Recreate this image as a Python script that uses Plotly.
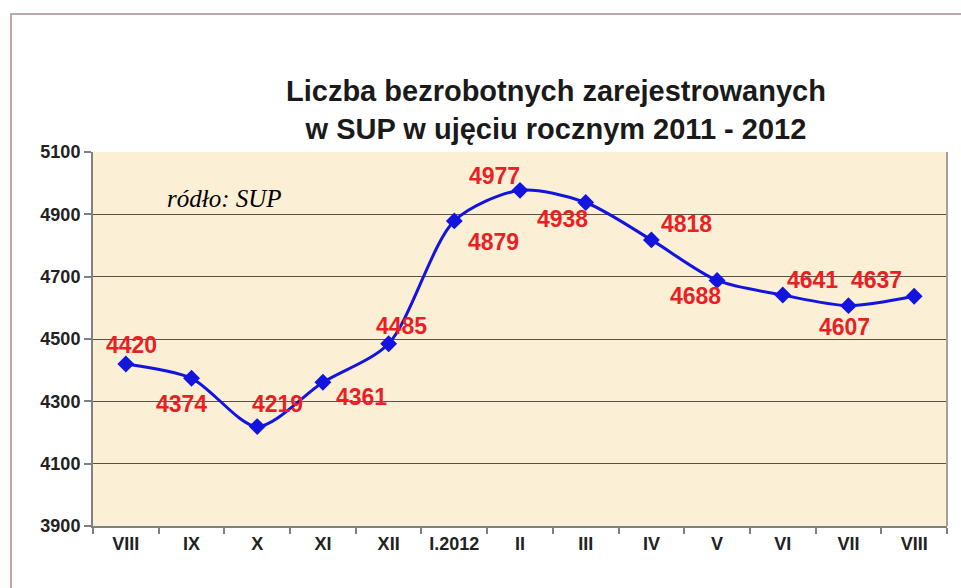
import plotly.graph_objects as go

categories = ["VIII", "IX", "X", "XI", "XII", "I.2012", "II", "III", "IV", "V", "VI", "VII", "VIII "]
values = [4420, 4374, 4219, 4361, 4485, 4879, 4977, 4938, 4818, 4688, 4641, 4607, 4637]
y_ticks = [3900, 4100, 4300, 4500, 4700, 4900, 5100]
tick_text = ["VIII", "IX", "X", "XI", "XII", "I.2012", "II", "III", "IV", "V", "VI", "VII", "VIII"]

# label offsets (pixels) relative to each point
label_dx = [6, -10, 20, 39, 13, 39, -26, -23, 35, -22, 30, -4, -38]
label_dy = [19, -26, 23, -15, 18, -21, 14, -17, 16, -16, 15, -21, 16]

x_idx = list(range(len(categories)))

PL, PR, PT, PB = 93, 947, 152, 526
pw, ph = PR - PL, PB - PT

fig = go.Figure()
fig.add_trace(go.Scatter(
    x=x_idx, y=values, mode="lines+markers",
    line=dict(color="#1414e0", width=3, shape="spline", smoothing=0.8),
    marker=dict(symbol="diamond", size=13, color="#1414e0"),
    hoverinfo="skip", showlegend=False,
))

annotations = []
for i, v in enumerate(values):
    annotations.append(dict(
        x=i, y=v, xref="x", yref="y", text="<b>%d</b>" % v, showarrow=False,
        xshift=label_dx[i], yshift=label_dy[i],
        font=dict(family="Liberation Sans, Arial", size=23, color="#ea1f25"),
    ))
annotations.append(dict(
    x=(556 - PL) / pw, y=1 + (PT - 110) / ph, xref="paper", yref="paper",
    xanchor="center", yanchor="middle",
    text="<b>Liczba bezrobotnych zarejestrowanych<br>w SUP w ujęciu rocznym 2011 - 2012</b>",
    showarrow=False, align="center",
    font=dict(family="Liberation Sans, Arial", size=29, color="#1a1a1a"),
))
annotations.append(dict(
    x=(165 - PL) / pw, y=1 - (198 - PT) / ph, xref="paper", yref="paper",
    text="<i>ródło: SUP</i>", showarrow=False,
    xanchor="left", yanchor="middle",
    font=dict(family="Liberation Serif, serif", size=25, color="#000000"),
))

fig.update_layout(
    width=961, height=588,
    margin=dict(l=PL, r=961 - PR, t=PT, b=588 - PB),
    paper_bgcolor="white",
    plot_bgcolor="#fbf0d6",
    annotations=annotations,
    shapes=[dict(type="rect", xref="paper", yref="paper",
                 x0=(11 - PL) / pw, x1=(975 - PL) / pw,
                 y0=-0.3, y1=1 + (PT - 14) / ph,
                 line=dict(color="#c0a8a8", width=2), layer="below"),
            dict(type="line", xref="paper", yref="paper", x0=1, x1=1, y0=0, y1=1,
                 line=dict(color="#a0a0a0", width=2))],
    xaxis=dict(
        range=[-0.5, 12.5], tickmode="array", tickvals=x_idx, ticktext=["<b>%s</b>" % t for t in tick_text],
        showgrid=False, zeroline=False, showline=True, linecolor="#808080", linewidth=2,
        ticks="", tickfont=dict(family="Liberation Sans, Arial", size=18, color="#222222"),
        fixedrange=True, automargin=False,
        minor=dict(tickmode="array", tickvals=[i - 0.5 for i in range(14)],
                   ticks="outside", ticklen=6, tickcolor="#808080", tickwidth=2),
    ),
    yaxis=dict(
        range=[3900, 5100], tickmode="array", tickvals=y_ticks, ticktext=["<b>%d</b>" % t for t in y_ticks],
        showgrid=True, gridcolor="#5a5048", gridwidth=1, zeroline=False,
        showline=True, linecolor="#808080", linewidth=2,
        ticks="outside", ticklen=7, tickcolor="#808080", tickwidth=2,
        tickfont=dict(family="Liberation Sans, Arial", size=18, color="#222222"),
        fixedrange=True, automargin=False,
    ),
)

fig.write_html("out.html", config={"displayModeBar": False},
               post_script="document.body.style.margin='0';")
